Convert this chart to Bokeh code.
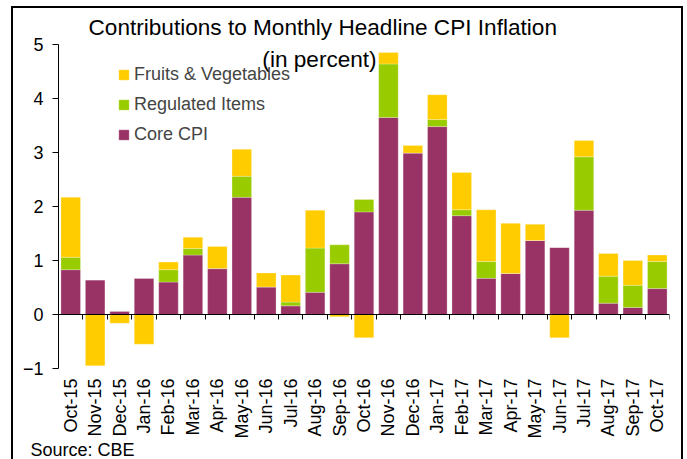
import numpy as np
from bokeh.plotting import figure
from bokeh.models import (ColumnDataSource, FixedTicker, LinearAxis, Label,
                          Range1d, Legend, LegendItem, Title)
from bokeh.embed import file_html
from bokeh.resources import INLINE

months = ["Oct-15", "Nov-15", "Dec-15", "Jan-16", "Feb-16", "Mar-16", "Apr-16",
          "May-16", "Jun-16", "Jul-16", "Aug-16", "Sep-16", "Oct-16", "Nov-16",
          "Dec-16", "Jan-17", "Feb-17", "Mar-17", "Apr-17", "May-17", "Jun-17",
          "Jul-17", "Aug-17", "Sep-17", "Oct-17"]
core = [0.83, 0.64, 0.06, 0.67, 0.60, 1.10, 0.85, 2.17, 0.51, 0.16, 0.41, 0.94,
        1.90, 3.65, 2.99, 3.48, 1.83, 0.67, 0.76, 1.37, 1.24, 1.93, 0.21, 0.13, 0.48]
regulated = [0.23, 0.0, 0.0, 0.0, 0.23, 0.12, 0.0, 0.39, 0.0, 0.07, 0.82, 0.35,
             0.23, 0.99, 0.0, 0.13, 0.11, 0.31, 0.0, 0.0, 0.0, 0.99, 0.50, 0.41, 0.50]
fruits = [1.11, -0.95, -0.16, -0.55, 0.14, 0.21, 0.41, 0.50, 0.26, 0.50, 0.70, -0.04,
          -0.43, 0.21, 0.14, 0.46, 0.69, 0.96, 0.93, 0.30, -0.43, 0.30, 0.42, 0.46, 0.12]
y_ticks = [-1, 0, 1, 2, 3, 4, 5]

FONT = "Liberation Sans"
C_CORE, C_REG, C_FRUIT = "#993366", "#99CC00", "#FFCC00"

idx = np.arange(len(months))
c = np.array(core)
r = np.array(regulated)
f = np.array(fruits)
src = ColumnDataSource(dict(
    x=idx,
    core_b=np.zeros_like(c), core_t=c,
    reg_b=c, reg_t=c + r,
    fr_b=np.where(f >= 0, c + r, f), fr_t=np.where(f >= 0, c + r + f, 0.0),
))

p = figure(width=687, height=459, x_range=Range1d(-0.5, len(months) - 0.5),
           y_range=Range1d(-1, 5), output_backend="svg", toolbar_location=None,
           min_border_left=58, min_border_right=18, min_border_top=44,
           min_border_bottom=91)
p.border_fill_alpha = 0
p.background_fill_color = "white"
# open-bottomed black frame around the whole chart (drawn behind the canvas)
p.styles = {"background": ("linear-gradient(#000,#000) 11px 6px / 2px 453px no-repeat, "
                           "linear-gradient(#000,#000) 11px 6px / 672px 2px no-repeat, "
                           "linear-gradient(#000,#000) 681px 6px / 2px 453px no-repeat, "
                           "#fff")}
p.outline_line_color = None
p.xgrid.visible = False
p.ygrid.visible = False

bw = 0.8
r_core = p.vbar(x="x", bottom="core_b", top="core_t", width=bw, source=src,
                fill_color=C_CORE, line_color="white", line_width=0.5, line_alpha=0.5)
r_reg = p.vbar(x="x", bottom="reg_b", top="reg_t", width=bw, source=src,
               fill_color=C_REG, line_color="white", line_width=0.5, line_alpha=0.5)
r_fr = p.vbar(x="x", bottom="fr_b", top="fr_t", width=bw, source=src,
              fill_color=C_FRUIT, line_color="white", line_width=0.5, line_alpha=0.5)

ya = p.yaxis[0]
ya.ticker = FixedTicker(ticks=y_ticks)
ya.major_tick_in = 0
ya.major_tick_out = 6
ya.minor_tick_line_color = None
ya.major_label_standoff = 9
ya.major_label_text_font = FONT
ya.major_label_text_font_size = "18px"
ya.major_label_text_color = "black"
ya.axis_line_color = "black"
ya.major_tick_line_color = "black"

xa = p.xaxis[0]
xa.ticker = FixedTicker(ticks=list(idx))
xa.major_label_overrides = {int(i): m for i, m in zip(idx, months)}
xa.major_label_orientation = np.pi / 2
xa.axis_line_color = None
xa.major_tick_line_color = None
xa.minor_tick_line_color = None
xa.major_tick_out = 0
xa.major_tick_in = 0
xa.major_label_standoff = 10
xa.major_label_text_font = FONT
xa.major_label_text_font_size = "18px"
xa.major_label_text_color = "black"

# zero line with ticks between the months (drawn at y = 0, ticks pointing down)
bounds = [float(i) - 0.5 for i in range(len(months) + 1)]
za = LinearAxis(fixed_location=0, ticker=FixedTicker(ticks=bounds),
                major_tick_in=5, major_tick_out=0, minor_tick_line_color=None,
                major_label_overrides={b: "" for b in bounds},
                axis_line_color="black", major_tick_line_color="black",
                major_label_standoff=0)
p.add_layout(za, "above")

legend = Legend(items=[LegendItem(label="Fruits & Vegetables", renderers=[r_fr]),
                       LegendItem(label="Regulated Items", renderers=[r_reg]),
                       LegendItem(label="Core CPI", renderers=[r_core])],
                location=(59, 223), orientation="vertical",
                glyph_width=13, glyph_height=13, label_height=20, spacing=9,
                padding=0, margin=0, label_standoff=4,
                label_text_font=FONT, label_text_font_size="18px",
                border_line_color=None, background_fill_alpha=0)
p.add_layout(legend)

p.title.text = "Contributions to Monthly Headline CPI Inflation"
p.title.align = "left"
p.title.offset = 30
p.title.standoff = 9
p.title.text_font = FONT
p.title.text_font_size = "22.6px"
p.title.text_font_style = "normal"
p.title.text_color = "black"

p.add_layout(Label(x=261, y=309, x_units="screen", y_units="screen",
                   text="(in percent)",
                   text_align="center", text_baseline="alphabetic",
                   text_font=FONT, text_font_size="22.6px", text_color="black"))

p.add_layout(Title(text="Source: CBE", align="left", offset=-28, standoff=-8,
                   text_font=FONT, text_font_size="18px", text_font_style="normal",
                   text_color="black"), "below")

open("out.html", "w").write(file_html(p, INLINE))
